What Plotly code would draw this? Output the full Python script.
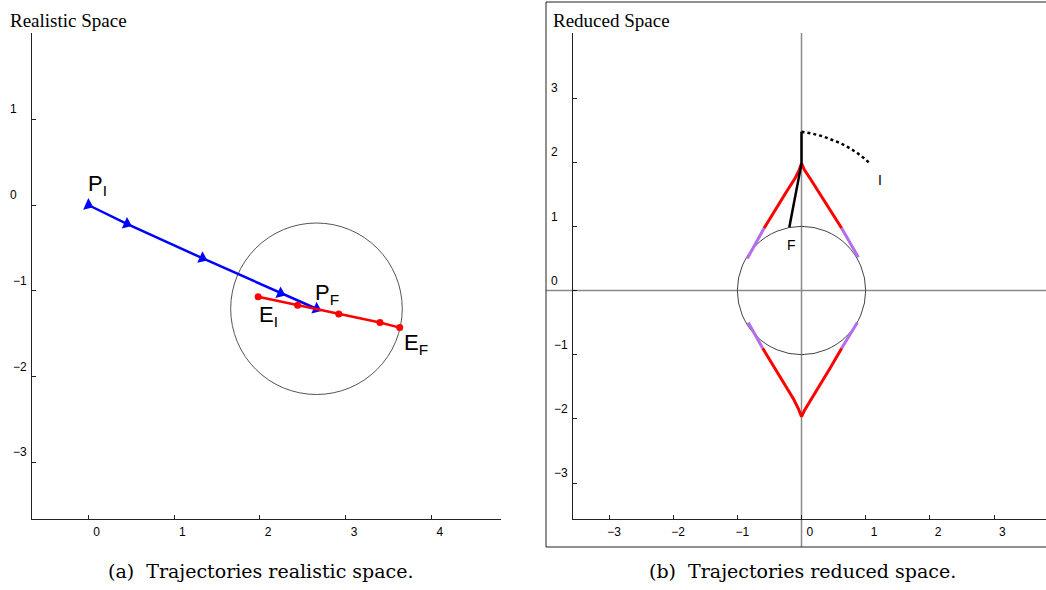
import plotly.graph_objects as go

# ---------------- Panel (a): realistic space ----------------
pursuer_x = [0.0, 0.45, 1.33, 2.24, 2.66]
pursuer_y = [0.0, -0.22, -0.62, -1.03, -1.21]
evader_x = [1.98, 2.44, 2.92, 3.40, 3.63]
evader_y = [-1.07, -1.17, -1.27, -1.37, -1.43]
capture_radius = 1.0
left_xticks = [0, 1, 2, 3, 4]
left_xticktext = ["\u20070", "\u20071", "\u20072", "\u20073", "\u20074"]
left_yticks = [-3, -2, -1, 0, 1]
left_yticktext = ["\u22123", "\u22122", "\u22121", "0\u2007\u2008", "1\u2007\u2008"]

# ---------------- Panel (b): reduced space ----------------
upper_red_x = [-0.584, -0.46, -0.335, -0.215, -0.10, -0.035, 0.0, 0.045, 0.132, 0.25, 0.366, 0.50, 0.626]
upper_red_y = [0.969, 1.175, 1.384, 1.57, 1.75, 1.88, 1.98, 1.88, 1.75, 1.57, 1.384, 1.17, 0.969]
lower_red_x = [-0.605, -0.42, -0.23, -0.12, -0.05, 0.0, 0.05, 0.13, 0.26, 0.44, 0.626]
lower_red_y = [-0.90, -1.20, -1.50, -1.70, -1.84, -1.967, -1.86, -1.73, -1.52, -1.22, -0.90]
purple_x = [-0.584, -0.70, -0.845, None, 0.626, 0.76, 0.885, None,
            -0.605, -0.72, -0.83, None, 0.626, 0.76, 0.87]
purple_y = [0.969, 0.75, 0.50, None, 0.969, 0.74, 0.52, None,
            -0.90, -0.70, -0.50, None, -0.90, -0.69, -0.50]
path_x = [0.0, 0.0, -0.19]
path_y = [2.475, 1.98, 0.985]
arc_x = [0.0, 0.17, 0.34, 0.47, 0.60, 0.73, 0.86, 0.97, 1.08]
arc_y = [2.475, 2.445, 2.40, 2.355, 2.30, 2.23, 2.15, 2.065, 1.97]
unit_radius = 1.0
right_ticks = [-3, -2, -1, 0, 1, 2, 3]
right_xticktext = ["\u22123", "\u22122", "\u22121", "\u20070", "\u20071", "\u20072", "\u20073"]
right_yticktext = ["\u22123", "\u22122", "\u22121", "0\u2007\u2008", "1\u2007\u2008", "2\u2007\u2008", "3\u2007\u2008"]

W, H = 1046, 590
def px(x):
    return x / W
def py(y):
    return 1 - y / H

fig = go.Figure()

fig.add_trace(go.Scatter(x=pursuer_x, y=pursuer_y, mode="lines+markers",
                         line=dict(color="#0000ff", width=2.5),
                         marker=dict(symbol="triangle-right", size=11, angle=24, color="#0000ff"),
                         xaxis="x", yaxis="y", hoverinfo="skip"))
fig.add_trace(go.Scatter(x=evader_x, y=evader_y, mode="lines+markers",
                         line=dict(color="#ff0000", width=2.5),
                         marker=dict(symbol="circle", size=7, color="#ff0000"),
                         xaxis="x", yaxis="y", hoverinfo="skip"))

fig.add_trace(go.Scatter(x=purple_x, y=purple_y, mode="lines",
                         line=dict(color="#b46cf0", width=3),
                         xaxis="x2", yaxis="y2", hoverinfo="skip"))
fig.add_trace(go.Scatter(x=upper_red_x, y=upper_red_y, mode="lines",
                         line=dict(color="#ff0000", width=3),
                         xaxis="x2", yaxis="y2", hoverinfo="skip"))
fig.add_trace(go.Scatter(x=lower_red_x, y=lower_red_y, mode="lines",
                         line=dict(color="#ff0000", width=3),
                         xaxis="x2", yaxis="y2", hoverinfo="skip"))
fig.add_trace(go.Scatter(x=path_x, y=path_y, mode="lines",
                         line=dict(color="#000000", width=2.5),
                         xaxis="x2", yaxis="y2", hoverinfo="skip"))
fig.add_trace(go.Scatter(x=arc_x, y=arc_y, mode="lines",
                         line=dict(color="#000000", width=2.5, dash="dot"),
                         xaxis="x2", yaxis="y2", hoverinfo="skip"))

shapes = [
    dict(type="circle", xref="x", yref="y",
         x0=pursuer_x[-1] - capture_radius, x1=pursuer_x[-1] + capture_radius,
         y0=pursuer_y[-1] - capture_radius, y1=pursuer_y[-1] + capture_radius,
         line=dict(color="#555555", width=1), layer="below"),
    dict(type="circle", xref="x2", yref="y2",
         x0=-unit_radius, x1=unit_radius, y0=-unit_radius, y1=unit_radius,
         line=dict(color="#444444", width=1), layer="below"),
    dict(type="line", xref="x2", yref="y2 domain", x0=0, x1=0, y0=-0.0576, y1=1.0,
         line=dict(color="#8a8a8a", width=1.5), layer="below"),
    dict(type="line", xref="x2 domain", yref="y2", x0=-0.0571, x1=1.0, y0=0, y1=0,
         line=dict(color="#8a8a8a", width=1.5), layer="below"),
    dict(type="rect", xref="paper", yref="paper", x0=px(546), x1=1.02, y0=py(547), y1=py(2),
         line=dict(color="#222222", width=1), fillcolor="rgba(0,0,0,0)", layer="below"),
]

axis_common = dict(showline=True, linecolor="#222222", linewidth=1, ticks="inside", ticklen=4,
                   tickcolor="#222222", showgrid=False, zeroline=False, fixedrange=True,
                   tickfont=dict(family="Liberation Sans", size=12, color="#000000"),
                   tickmode="array")

label_font = dict(family="Liberation Sans", size=22, color="#000000")
small_font = dict(family="Liberation Sans", size=14, color="#000000")

annotations = [
    dict(text="Realistic Space", xref="paper", yref="paper", x=px(8), y=py(21),
         xanchor="left", yanchor="middle", showarrow=False,
         font=dict(family="Liberation Serif", size=19, color="#000000")),
    dict(text="Reduced Space", xref="paper", yref="paper", x=px(551), y=py(21),
         xanchor="left", yanchor="middle", showarrow=False,
         font=dict(family="Liberation Serif", size=19, color="#000000")),
    dict(text="(a)\u00a0 Trajectories realistic space.", xref="paper", yref="paper", x=px(260), y=py(571),
         xanchor="center", yanchor="middle", showarrow=False,
         font=dict(family="DejaVu Serif", size=19, color="#000000")),
    dict(text="(b)\u00a0 Trajectories reduced space.", xref="paper", yref="paper", x=px(802), y=py(571),
         xanchor="center", yanchor="middle", showarrow=False,
         font=dict(family="DejaVu Serif", size=19, color="#000000")),
    dict(text="P<sub>I</sub>", xref="x", yref="y", x=pursuer_x[0], y=pursuer_y[0],
         xanchor="left", yanchor="middle", xshift=-2, yshift=20, showarrow=False, font=label_font),
    dict(text="P<sub>F</sub>", xref="x", yref="y", x=pursuer_x[-1], y=pursuer_y[-1],
         xanchor="left", yanchor="middle", xshift=-3, yshift=15, showarrow=False, font=label_font),
    dict(text="E<sub>I</sub>", xref="x", yref="y", x=evader_x[0], y=evader_y[0],
         xanchor="left", yanchor="middle", xshift=-1, yshift=-19, showarrow=False, font=label_font),
    dict(text="E<sub>F</sub>", xref="x", yref="y", x=evader_x[-1], y=evader_y[-1],
         xanchor="left", yanchor="middle", xshift=2, yshift=-16, showarrow=False, font=label_font),
    dict(text="I", xref="x2", yref="y2", x=arc_x[-1], y=arc_y[-1],
         xanchor="center", yanchor="middle", xshift=9, yshift=-16, showarrow=False, font=small_font),
    dict(text="F", xref="x2", yref="y2", x=path_x[-1], y=path_y[-1],
         xanchor="center", yanchor="middle", xshift=2, yshift=-18, showarrow=False, font=small_font),
]

fig.update_layout(
    width=W, height=H,
    margin=dict(l=0, r=0, t=0, b=0),
    paper_bgcolor="white", plot_bgcolor="rgba(0,0,0,0)",
    showlegend=False,
    hovermode=False,
    shapes=shapes,
    annotations=annotations,
    xaxis=dict(axis_common, domain=[px(32), px(501)], range=[-0.656, 4.811], anchor="y",
               tickvals=left_xticks, ticktext=left_xticktext, ticklabelshift=5, ticklabelstandoff=2),
    yaxis=dict(axis_common, domain=[py(519), py(33)], range=[-3.662, 2.006], anchor="x",
               tickvals=left_yticks, ticktext=left_yticktext, ticklabelshift=-10, ticklabelstandoff=2),
    xaxis2=dict(axis_common, domain=[px(573), 1.0], range=[-3.561, 3.810], anchor="y2",
                tickvals=right_ticks, ticktext=right_xticktext, ticklabelshift=5, ticklabelstandoff=2),
    yaxis2=dict(axis_common, domain=[py(519), py(33)], range=[-3.561, 4.013], anchor="x2",
                tickvals=right_ticks, ticktext=right_yticktext, ticklabelshift=-10, ticklabelstandoff=2),
)

fig.write_html("out.html",
               config={"displayModeBar": False, "staticPlot": True},
               post_script="document.body.style.margin='0';document.body.style.overflow='hidden';")
